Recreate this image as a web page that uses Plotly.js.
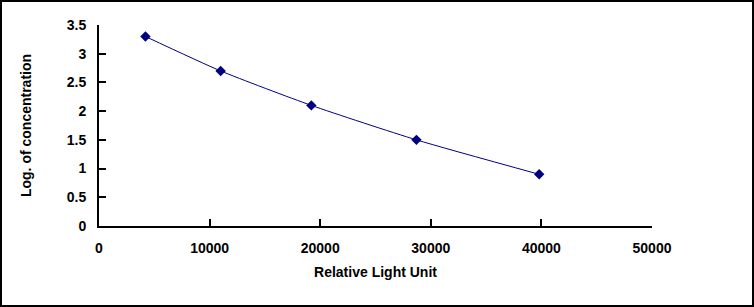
<!DOCTYPE html>
<html>
<head>
<meta charset="utf-8">
<script src="https://cdn.plot.ly/plotly-3.0.1.min.js"></script>
<style>
html,body{margin:0;padding:0;background:#fff;}
#wrap{position:relative;width:754px;height:307px;}
#chart{width:754px;height:307px;}
#chart text{font-weight:700 !important;}
#frame{position:absolute;left:0;top:0;width:754px;height:307px;box-sizing:border-box;border:2px solid #000;pointer-events:none;}
</style>
</head>
<body>
<div id="wrap"><div id="chart"></div><div id="frame"></div></div>
<script>
const rlu = [4200, 11000, 19200, 28700, 39800];
const logConc = [3.3, 2.7, 2.1, 1.5, 0.9];
const xTicks = [0, 10000, 20000, 30000, 40000, 50000];
const yTicks = [0, 0.5, 1, 1.5, 2, 2.5, 3, 3.5];
const yTickText = ['0', '0.5', '1', '1.5', '2', '2.5', '3', '3.5'];

const font = {family: 'Arial, Liberation Sans, sans-serif', size: 14, color: '#000', weight: 700};

Plotly.newPlot('chart', [{
  x: rlu, y: logConc,
  type: 'scatter', mode: 'lines+markers',
  line: {color: '#000080', width: 1, shape: 'spline', smoothing: 0.6},
  marker: {symbol: 'diamond', size: 8, color: '#000080'},
  cliponaxis: false
}], {
  width: 754, height: 307,
  margin: {l: 99, r: 102, t: 25, b: 81},
  paper_bgcolor: '#fff', plot_bgcolor: '#fff',
  showlegend: false,
  font: font,
  xaxis: {
    range: [0, 50000], tickvals: xTicks, ticktext: xTicks.map(String),
    ticks: 'inside', ticklen: 7, tickwidth: 2, tickcolor: '#000',
    showline: true, linewidth: 2, linecolor: '#000',
    showgrid: false, zeroline: false,
    tickfont: font, ticklabelstandoff: 8,
    title: {text: 'Relative Light Unit', font: font, standoff: 12}
  },
  yaxis: {
    range: [0, 3.5], tickvals: yTicks, ticktext: yTickText,
    ticks: 'inside', ticklen: 7, tickwidth: 2, tickcolor: '#000',
    showline: true, linewidth: 2, linecolor: '#000',
    showgrid: false, zeroline: false,
    tickfont: font, ticklabelstandoff: 8,
    title: {text: 'Log. of concentration', font: font, standoff: 32}
  }
}, {staticPlot: true});
</script>
</body>
</html>
